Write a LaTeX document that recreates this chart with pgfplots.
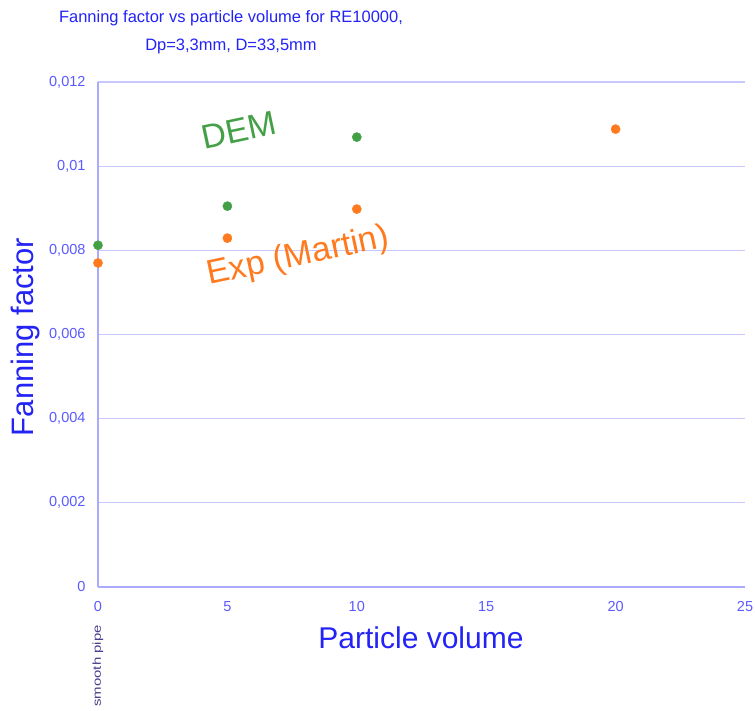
\documentclass[border=0pt]{standalone}
\usepackage{pgfplots}
\pgfplotsset{compat=1.18}
\usepackage{fontspec}
\setmainfont{Liberation Sans}
\definecolor{gridc}{RGB}{200,200,255}
\definecolor{axc}{RGB}{170,170,255}
\definecolor{tickc}{RGB}{90,90,255}
\definecolor{titc}{RGB}{35,35,245}
\definecolor{demc}{RGB}{67,160,71}
\definecolor{expc}{RGB}{255,122,30}
\definecolor{smc}{RGB}{75,60,140}
\begin{document}
\begin{tikzpicture}[x=1pt,y=1pt]
\useasboundingbox (-98,-124) rectangle (657,587);
\begin{axis}[
  at={(0,0)}, anchor=origin,
  scale only axis, width=647pt, height=505pt,
  xmin=0, xmax=25, ymin=0, ymax=0.012,
  xtick={0,5,10,15,20,25},
  ytick={0,0.002,0.004,0.006,0.008,0.01,0.012},
  yticklabels={0,{0,002},{0,004},{0,006},{0,008},{0,01},{0,012}},
  xticklabels={0,5,10,15,20,25},
  scaled y ticks=false,
  /pgf/number format/assume math mode=true,
  ticklabel style={font=\fontsize{14.5}{16}\selectfont, text=tickc},
  xticklabel style={yshift=-11pt},
  yticklabel style={xshift=-9pt},
  tick style={draw=none},
  axis x line*=bottom, axis y line*=left,
  axis line style={draw=axc, line width=1.5pt, -},
  ymajorgrids, grid style={draw=gridc, line width=1.2pt},
  clip=false,
]
\addplot[only marks, mark=*, mark size=4.6pt, color=demc] coordinates {(0,0.00812) (5,0.00905) (10,0.01069)};
\addplot[only marks, mark=*, mark size=4.6pt, color=expc] coordinates {(0,0.0077) (5,0.00829) (10,0.00898) (20,0.01088)};
\end{axis}
\node[text=titc, align=center, font=\fontsize{16.5}{28}\selectfont] at (133,555) {Fanning factor vs particle volume for RE10000,\\Dp=3,3mm, D=33,5mm};
\node[text=titc, rotate=90, font=\fontsize{31}{36}\selectfont] at (-73,250) {Fanning factor};
\node[text=titc, font=\fontsize{30}{36}\selectfont] at (323,-51) {Particle volume};
\node[text=smc, rotate=90, font=\fontsize{11.5}{13}\selectfont, anchor=east, inner sep=0pt] at (0,-38) {\scalebox{1.3}[1]{smooth pipe}};
\node[text=demc, rotate=12, font=\fontsize{34}{40}\selectfont] at (141,457) {DEM};
\node[text=expc, rotate=12, font=\fontsize{34}{40}\selectfont] at (200,330) {Exp (Martin)};
\end{tikzpicture}
\end{document}
